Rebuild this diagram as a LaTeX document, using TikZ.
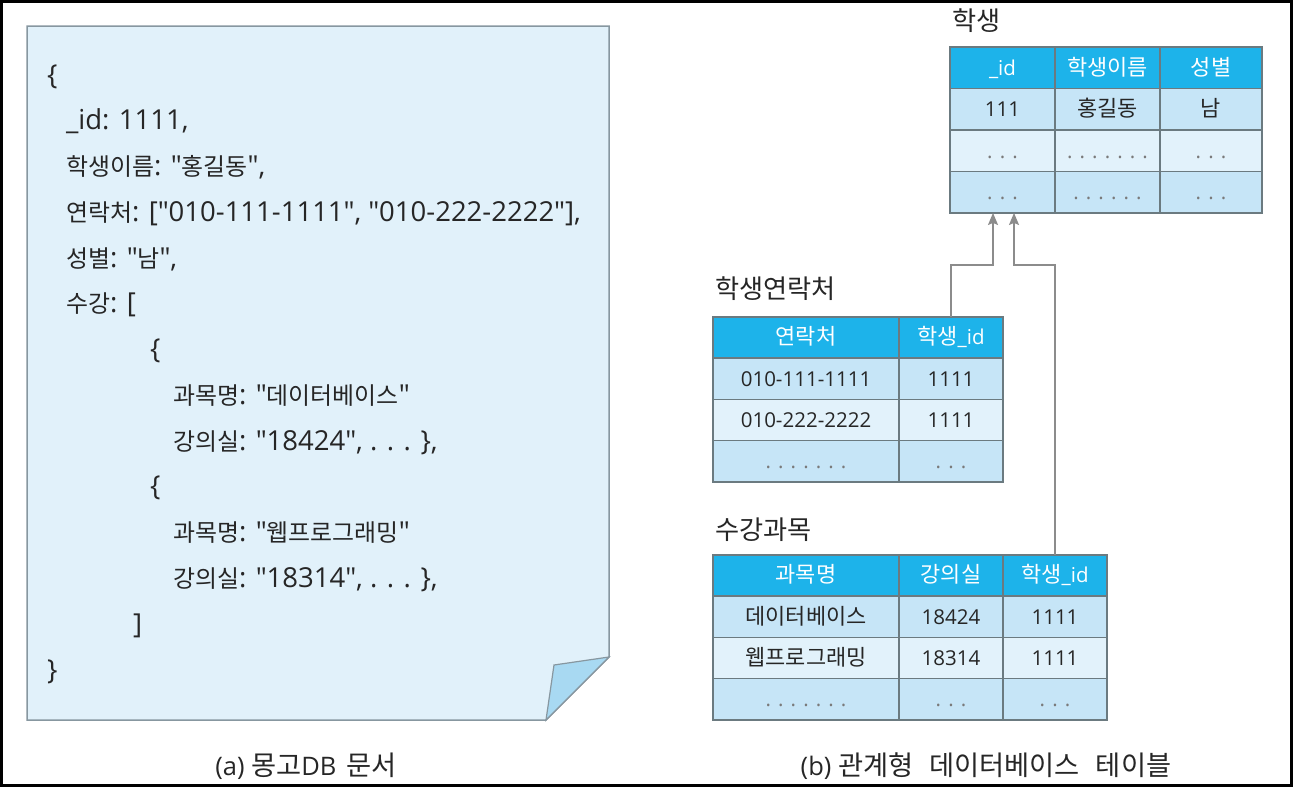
\documentclass[tikz,border=0pt]{standalone}
\usepackage{fontspec}
\setmainfont{Open Sans}
\newfontfamily\kr{Noto Sans CJK KR}[Scale=0.87]
\newfontfamily\krt{Noto Sans CJK KR}[Scale=1.07]
\usetikzlibrary{arrows.meta}
\definecolor{paper}{HTML}{E1F1FA}
\definecolor{paperline}{HTML}{8797A0}
\definecolor{flap}{HTML}{A8D9F2}
\definecolor{head}{HTML}{1DB3EA}
\definecolor{rowa}{HTML}{C6E5F7}
\definecolor{rowb}{HTML}{E2F2FB}
\definecolor{grid}{HTML}{6B7A80}
\definecolor{ink}{HTML}{262626}
\definecolor{dotc}{HTML}{7A7A7A}
\definecolor{linkc}{HTML}{8C8C8C}

\begin{document}
\begin{tikzpicture}
  [x=1pt,y=-1pt,
   every node/.style={inner sep=0pt,outer sep=0pt,text=ink},
   code/.style={anchor=base west,font=\fontsize{27.5}{27.5}\selectfont},
   title/.style={anchor=base west,font=\krt\fontsize{24.5}{24.5}\selectfont},
   capt/.style={anchor=base,font=\fontsize{25.5}{25.5}\selectfont},
   cell/.style={draw=grid,line width=1.5pt,minimum height=41.4pt,
     text height=17pt,text depth=2.5pt,font=\fontsize{20.5}{20.5}\selectfont},
   hd/.style={cell,fill=head,text=white},
   ra/.style={cell,fill=rowa},
   rb/.style={cell,fill=rowb},
   dots/.style={text=dotc},
   link/.style={draw=linkc,line width=1.5pt,-{Stealth[length=12pt,width=10pt,inset=2pt]}}]

  \useasboundingbox (0,0) rectangle (1293,787);
  \draw[line width=3pt] (1.5,1.5) rectangle (1291.5,785.5);

  % (a) document
  \draw[paperline,line width=1.5pt,fill=paper] (27,26) -- (609,26) -- (609,657) -- (546,720) -- (27,720) -- cycle;
  \draw[paperline,line width=1.2pt,fill=flap] (609,657) -- (554,665) -- (546,720) -- cycle;

  \node[code] (l1) at (47,84) {\{};
  \node[code] (l2) at (66,129.8) {\_id: 1111,};
  \node[code] (l3) at (66,175.5) {{\kr 학생이름}: ″{\kr 홍길동}″,};
  \node[code] (l4) at (66,221.3) {{\kr 연락처}: [″010-111-1111″, ″010-222-2222″],};
  \node[code] (l5) at (66,267.1) {{\kr 성별}: ″{\kr 남}″,};
  \node[code] (l6) at (66,312.9) {{\kr 수강}: [};
  \node[code] (l7) at (150,358.6) {\{};
  \node[code] (l8) at (173,404.4) {{\kr 과목명}: ″{\kr 데이터베이스}″};
  \node[code] (l9) at (173,450.2) {{\kr 강의실}: ″18424″, . . . \},};
  \node[code] (l10) at (150,495.9) {\{};
  \node[code] (l11) at (173,541.7) {{\kr 과목명}: ″{\kr 웹프로그래밍}″};
  \node[code] (l12) at (173,587.5) {{\kr 강의실}: ″18314″, . . . \},};
  \node[code] (l13) at (133,633.2) {]};
  \node[code] (l14) at (47,679) {\}};

  % (b) tables
  \node[title] (t1) at (952,30) {학생};
  \node[hd,minimum width=105pt] (s01) at (1002.5,67.75) {\_id};
  \node[hd,minimum width=105pt] (s02) at (1107.5,67.75) {\krt 학생이름};
  \node[hd,minimum width=102pt] (s03) at (1211,67.75) {\krt 성별};
  \node[ra,minimum width=105pt] (s11) at (1002.5,109.25) {111};
  \node[ra,minimum width=105pt] (s12) at (1107.5,109.25) {\krt 홍길동};
  \node[ra,minimum width=102pt] (s13) at (1211,109.25) {\krt 남};
  \foreach \r/\y/\f/\d in {2/150.75/rb/{. . . . . . .},3/192.25/ra/{. . . . . .}}{
    \node[\f,dots,minimum width=105pt] (s\r1) at (1002.5,\y) {. . .};
    \node[\f,dots,minimum width=105pt] (s\r2) at (1107.5,\y) {\d};
    \node[\f,dots,minimum width=102pt] (s\r3) at (1211,\y) {. . .};
  }

  \node[title] (t2) at (715,298) {학생연락처};
  \node[hd,minimum width=186pt] (p01) at (806,337.6) {\krt 연락처};
  \node[hd,minimum width=104pt] (p02) at (951,337.6) {{\krt 학생}\_id};
  \node[ra,minimum width=186pt] (p11) at (806,378.9) {010-111-1111};
  \node[ra,minimum width=104pt] (p12) at (951,378.9) {1111};
  \node[rb,minimum width=186pt] (p21) at (806,420.1) {010-222-2222};
  \node[rb,minimum width=104pt] (p22) at (951,420.1) {1111};
  \node[ra,dots,minimum width=186pt] (p31) at (806,461.4) {. . . . . . .};
  \node[ra,dots,minimum width=104pt] (p32) at (951,461.4) {. . .};

  \node[title] (t3) at (715,539) {수강과목};
  \node[hd,minimum width=186pt] (c01) at (806,575.6) {\krt 과목명};
  \node[hd,minimum width=104pt] (c02) at (951,575.6) {\krt 강의실};
  \node[hd,minimum width=104pt] (c03) at (1055,575.6) {{\krt 학생}\_id};
  \node[ra,minimum width=186pt] (c11) at (806,616.9) {\krt 데이터베이스};
  \node[ra,minimum width=104pt] (c12) at (951,616.9) {18424};
  \node[ra,minimum width=104pt] (c13) at (1055,616.9) {1111};
  \node[rb,minimum width=186pt] (c21) at (806,658.1) {\krt 웹프로그래밍};
  \node[rb,minimum width=104pt] (c22) at (951,658.1) {18314};
  \node[rb,minimum width=104pt] (c23) at (1055,658.1) {1111};
  \node[ra,dots,minimum width=186pt] (c31) at (806,699.4) {. . . . . . .};
  \node[ra,dots,minimum width=104pt] (c32) at (951,699.4) {. . .};
  \node[ra,dots,minimum width=104pt] (c33) at (1055,699.4) {. . .};

  \coordinate (k1) at (993,265);
  \coordinate (k2) at (1014,265);
  \draw[link] (p02.north) |- (k1) -- (k1 |- s31.south);
  \draw[link] (c03.north) |- (k2) -- (k2 |- s31.south);

  \node[capt] (ca) at (306,775) {(a) {\krt 몽고}DB\hspace{10pt}{\krt 문서}};
  \node[capt] (cb) at (986,775) {(b) {\krt 관계형}\hspace{16pt}{\krt 데이터베이스}\hspace{16pt}{\krt 테이블}};
\end{tikzpicture}
\end{document}
